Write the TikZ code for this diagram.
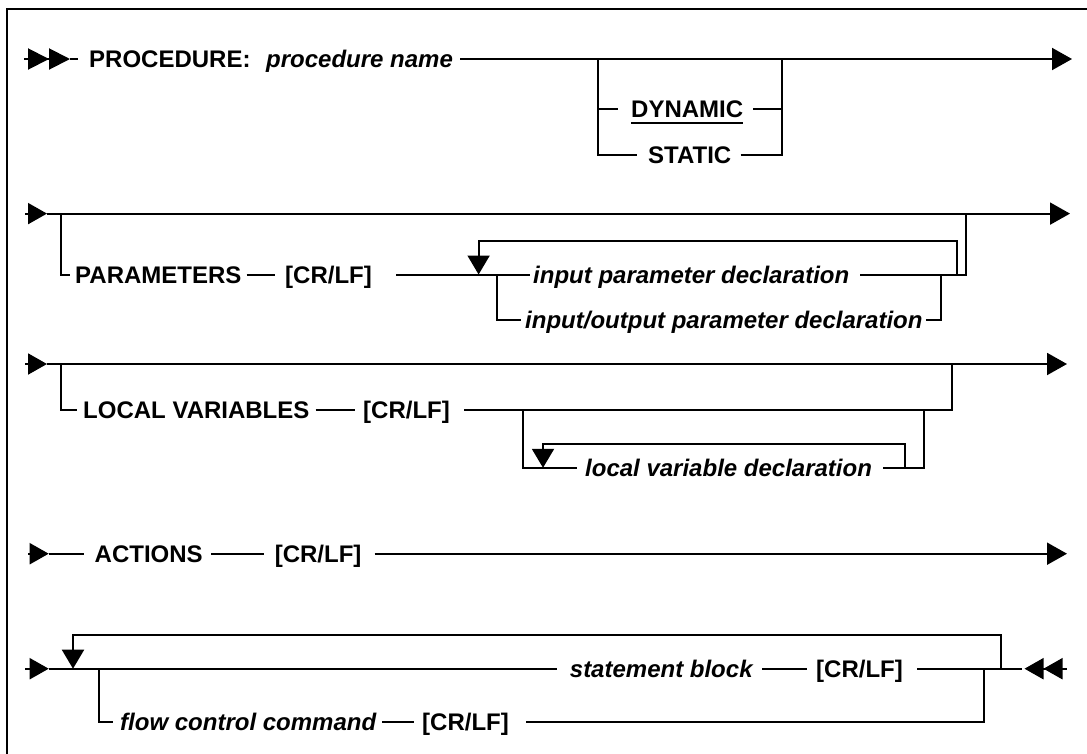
\documentclass[tikz,border=0pt]{standalone}
\usepackage{fontspec}
\setmainfont{Liberation Sans}
\usetikzlibrary{arrows.meta,calc}
\begin{document}
\begin{tikzpicture}[x=1pt,y=-1pt,
  ln/.style={line width=2pt},
  lbl/.style={font=\fontsize{24}{28}\selectfont\bfseries, inner sep=0pt, text height=17.2pt, text depth=0pt, anchor=west},
  lbli/.style={lbl, font=\fontsize{24}{28}\selectfont\bfseries\itshape},
  endarr/.style={-{Triangle[length=20pt,width=22pt]}},
  sarr/.style={-{Triangle[length=19pt,width=21pt]}},
  looparr/.style={-{Triangle[length=19pt,width=22pt]}},
]
\useasboundingbox (0,0) rectangle (1087,753);
% frame
\draw[line width=2pt] (6.7,760) -- (6.7,8.7) -- (1095,8.7);

% ---------- Row 1 ----------
\coordinate (s1) at (24,59);
\coordinate (a1) at (70,59);
\coordinate (e1) at (1072,59);
\draw[ln,-{Triangle[length=21pt,width=21pt]Triangle[length=21pt,width=21pt]}] (s1) -- (a1);
\node[lbl] (proc) at (89,59) {PROCEDURE:};
\draw[ln] (a1) -- ([xshift=-11pt]proc.west);
\node[lbli] (pname) at (266,59) {procedure name};
\draw[ln,endarr] ([xshift=7pt]pname.east) -- (e1);
\coordinate (b1l) at (597.6,59);
\coordinate (b1r) at (782,59);
\node[lbl] (dyn) at (631,108.9) {DYNAMIC};
\node[lbl] (stat) at (648,155.3) {STATIC};
\draw[ln] (b1l) |- ([xshift=-13.5pt]dyn.west);
\draw[ln] (b1l) |- ([xshift=-11pt]stat.west);
\draw[ln] ([xshift=10pt]dyn.east) -| (b1r);
\draw[ln] ([xshift=9pt]stat.east) -| (b1r);
\draw[ln] ([yshift=-5.4pt]dyn.south west) -- ([yshift=-5.4pt]dyn.south east);

% ---------- Row 2 ----------
\coordinate (s2) at (25,213.6);
\coordinate (a2) at (47,213.6);
\coordinate (e2) at (1070,213.6);
\draw[ln,sarr] (s2) -- (a2);
\draw[ln,endarr] (a2) -- (e2);
\coordinate (j2) at (61,213.6);
\node[lbl] (par) at (75,274.5) {PARAMETERS};
\draw[ln] (j2) |- ([xshift=-5pt]par.west);
\node[lbl] (cr2) at (285,274.5) {[CR/LF]};
\draw[ln] ([xshift=5pt]par.east) -- ([xshift=-10pt]cr2.west);
\node[lbli] (ipd) at (533,274.5) {input parameter declaration};
\coordinate (c2) at (396,274.5);
\draw[ln] (c2) -- ([xshift=-3pt]ipd.west);
\coordinate (l2r) at (957,274.5);
\coordinate (l2a) at (478.6,241.4);
\coordinate (l2t) at (478.6,274.5);
\draw[ln,looparr] (l2r) |- (l2a) -- (l2t);
\coordinate (j2r) at (965.7,213.6);
\draw[ln] ([xshift=11pt]ipd.east) -| (j2r);
\coordinate (j2i) at (497,274.5);
\coordinate (j2o) at (940.6,274.5);
\node[lbli] (iopd) at (525,320) {input/output parameter declaration};
\draw[ln] (j2i) |- ([xshift=-4pt]iopd.west);
\draw[ln] ([xshift=3pt]iopd.east) -| (j2o);

% ---------- Row 3 ----------
\coordinate (s3) at (25,364);
\coordinate (a3) at (47,364);
\coordinate (e3) at (1067,364);
\draw[ln,sarr] (s3) -- (a3);
\draw[ln,endarr] (a3) -- (e3);
\coordinate (j3) at (61,364);
\node[lbl] (lv) at (83,410) {LOCAL VARIABLES};
\draw[ln] (j3) |- ([xshift=-6pt]lv.west);
\node[lbl] (cr3) at (363,410) {[CR/LF]};
\draw[ln] ([xshift=6pt]lv.east) -- ([xshift=-8.5pt]cr3.west);
\coordinate (j3r) at (951.7,364);
\draw[ln] ([xshift=14pt]cr3.east) -| (j3r);
\coordinate (j3i) at (523,410);
\coordinate (j3o) at (923.8,410);
\node[lbli] (lvd) at (585,467.8) {local variable declaration};
\draw[ln] (j3i) |- ([xshift=-8.4pt]lvd.west);
\draw[ln] ([xshift=11pt]lvd.east) -| (j3o);
\coordinate (l3r) at (904.6,467.8);
\coordinate (l3a) at (543,444);
\coordinate (l3t) at (543,467.8);
\draw[ln,looparr] (l3r) |- (l3a) -- (l3t);

% ---------- Row 4 ----------
\coordinate (s4) at (28,553.7);
\coordinate (a4) at (48.7,553.7);
\coordinate (e4) at (1067,553.7);
\draw[ln,sarr] (s4) -- (a4);
\node[lbl] (act) at (94.5,553.7) {ACTIONS};
\draw[ln] (a4) -- ([xshift=-11pt]act.west);
\node[lbl] (cr4) at (274.6,553.7) {[CR/LF]};
\draw[ln] ([xshift=8.5pt]act.east) -- ([xshift=-10.6pt]cr4.west);
\draw[ln,endarr] ([xshift=13pt]cr4.east) -- (e4);

% ---------- Row 5 ----------
\coordinate (s5) at (25,668.7);
\coordinate (a5) at (48.7,668.7);
\draw[ln,sarr] (s5) -- (a5);
\node[lbli] (sb) at (569.7,668.7) {statement block};
\draw[ln] (a5) -- ([xshift=-12.3pt]sb.west);
\node[lbl] (cr5a) at (816,668.7) {[CR/LF]};
\draw[ln] ([xshift=9.6pt]sb.east) -- ([xshift=-9pt]cr5a.west);
\coordinate (t5) at (1021.5,668.7);
\coordinate (e5) at (1067,668.7);
\draw[ln] ([xshift=14pt]cr5a.east) -- (t5);
\draw[ln,{Triangle[length=19pt,width=21pt,sep=3pt]Triangle[length=19pt,width=21pt]}-] (t5) -- (e5);
\coordinate (l5a) at (73,635.4);
\coordinate (l5t) at (73,668.7);
\coordinate (l5r) at (1001,668.7);
\draw[ln,looparr] (l5r) |- (l5a) -- (l5t);
\coordinate (j5) at (99,668.7);
\coordinate (j5r) at (984,668.7);
\node[lbli] (fcc) at (120,722) {flow control command};
\draw[ln] (j5) |- ([xshift=-7pt]fcc.west);
\node[lbl] (cr5b) at (422,722) {[CR/LF]};
\draw[ln] ([xshift=6pt]fcc.east) -- ([xshift=-8.4pt]cr5b.west);
\draw[ln] ([xshift=17pt]cr5b.east) -| (j5r);
\end{tikzpicture}
\end{document}
